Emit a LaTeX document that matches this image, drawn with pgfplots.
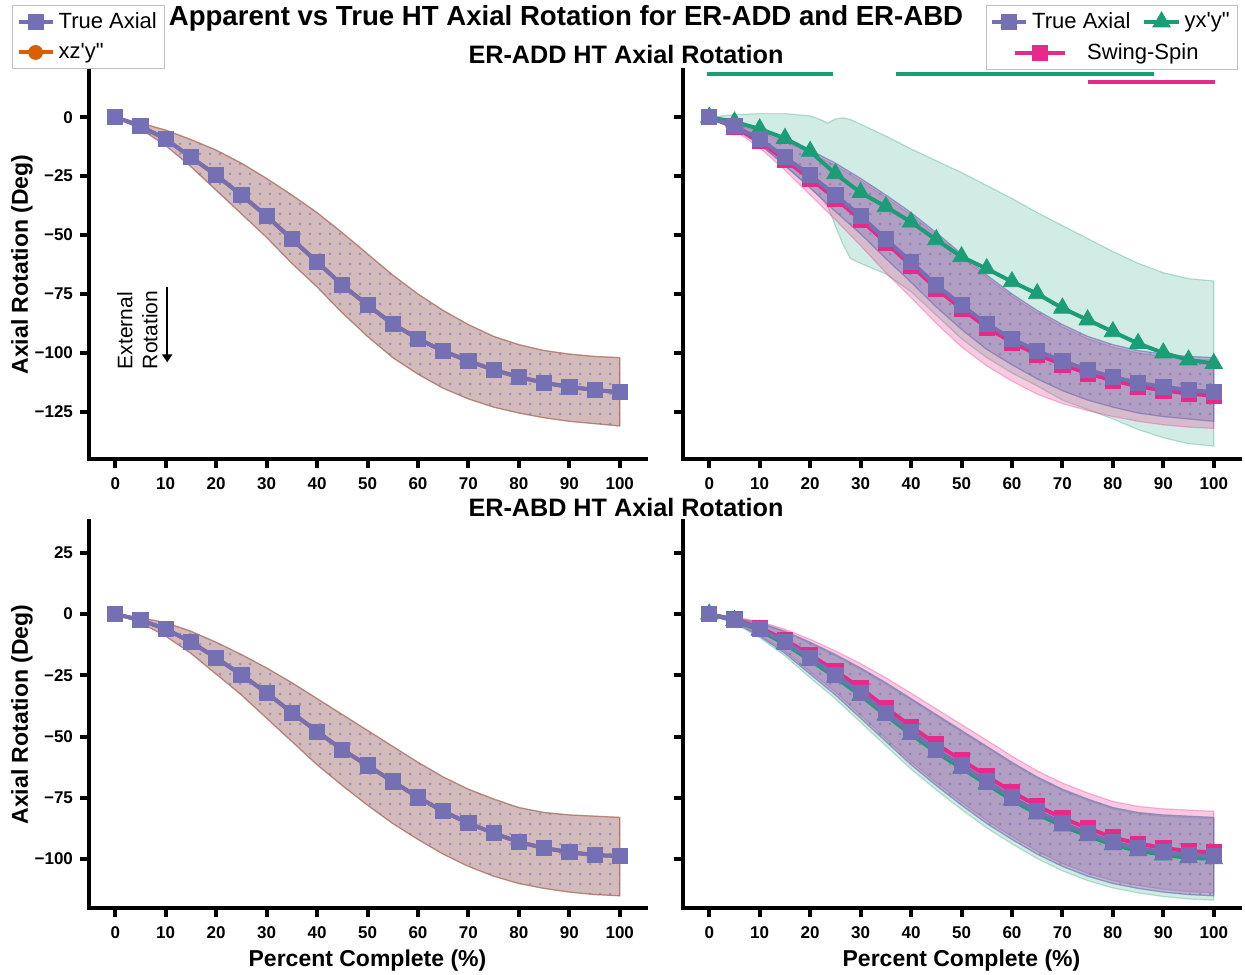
\documentclass[border=0pt]{standalone}
\usepackage{fontspec}
\setmainfont{Liberation Sans}
\usepackage{pgfplots}
\usepackage{pgfplotstable}
\pgfplotsset{compat=1.18}
\usetikzlibrary{patterns,arrows.meta}

\definecolor{tapurple}{HTML}{7570B3}
\definecolor{tgreen}{HTML}{1B9E77}
\definecolor{tpink}{HTML}{E7298A}
\definecolor{torange}{HTML}{D95F02}

\pgfdeclarepatternformonly{sdots}{\pgfqpoint{-1pt}{-1pt}}{\pgfqpoint{1pt}{1pt}}{\pgfqpoint{5pt}{5pt}}%
{\pgfpathcircle{\pgfqpoint{0pt}{0pt}}{0.75pt}\pgfusepath{fill}}

\newcommand{\tickfont}{\bfseries\fontsize{8.5}{10}\selectfont}
\newcommand{\labfont}{\bfseries\fontsize{11.5}{13}\selectfont}

% ER-ADD means: True Axial (ta), Swing-Spin (ss), yx'y'' (yx)
\pgfplotstableread{
x   ta     ss     yx
0   0      0      0
5   -3.8   -4.2   -2
10  -9.3   -10.2  -5
15  -17    -18.3  -9
20  -24.6  -26    -14.5
25  -33    -34.5  -24
30  -42    -43.5  -32
35  -51.7  -53.2  -38
40  -61.4  -62.9  -44.5
45  -71.2  -72.7  -52
50  -79.7  -81.2  -59.2
55  -87.7  -89.2  -64.3
60  -94    -95.5  -69.8
65  -99.2  -100.7 -74.9
70  -103.4 -104.9 -81
75  -107.2 -108.7 -86
80  -110.2 -111.7 -91
85  -112.7 -114.2 -96
90  -114.4 -115.9 -100
95  -115.7 -117.2 -103
100 -116.7 -118.2 -104.5
}\tadd

% ER-ABD means
\pgfplotstableread{
x   ta    ss    yx
0   0     0     0
5   -2.4  -2.2  -2.6
10  -6.1  -5.5  -6.6
15  -11.4 -10.5 -12.2
20  -17.9 -16.6 -18.8
25  -24.8 -23.2 -25.8
30  -32.1 -30.2 -33.2
35  -40.2 -38.2 -41.3
40  -48   -45.9 -49.1
45  -55.3 -53.1 -56.4
50  -61.8 -59.6 -62.9
55  -68.3 -66.1 -69.4
60  -74.8 -72.6 -75.9
65  -80.5 -78.3 -81.6
70  -85.4 -83.3 -86.5
75  -89.4 -87.4 -90.5
80  -93.1 -91.2 -94.2
85  -95.5 -93.7 -96.6
90  -97.2 -95.5 -98.3
95  -98.4 -96.8 -99.5
100 -98.8 -97.3 -99.9
}\tabd

\pgfplotsset{
  myaxis/.style={
    scale only axis, width=278.5pt, anchor=south west,
    xmin=-5.2, xmax=105.2,
    axis x line=bottom, axis y line=left,
    axis line style={-, line width=2pt, line cap=rect},
    tick align=outside, major tick length=4.5pt,
    tick style={black, line width=2pt},
    xtick={0,10,20,30,40,50,60,70,80,90,100},
    xticklabels={0,10,20,30,40,50,60,70,80,90,100},
    ticklabel style={font=\tickfont},
    xticklabel style={yshift=-1.5pt},
  },
  topy/.style={height=194.5pt, ymin=-145, ymax=20, ytick={-125,-100,-75,-50,-25,0}},
  boty/.style={height=193.5pt, ymin=-120, ymax=38, ytick={-100,-75,-50,-25,0,25}},
  ylab/.style={ylabel={Axial Rotation (Deg)}, ylabel style={font=\labfont, at={(axis description cs:-0.1203,0.5)}, anchor=center}},
  xlab/.style={xlabel={Percent Complete (\%)}, xlabel style={font=\labfont, at={(axis description cs:0.5,-0.137)}, anchor=center}},
  leg/.style={legend style={draw=black!25, font=\fontsize{11}{13}\selectfont, inner xsep=2pt, inner ysep=1.5pt, row sep=2pt, /tikz/every even column/.append style={column sep=4pt}}, legend cell align=left},
  purpline/.style={tapurple, line width=2pt, mark=square*, mark size=3.8pt, mark options={line width=0.4pt, fill=tapurple, draw=tapurple}},
  pinkline/.style={tpink, line width=2pt, mark=square*, mark size=3.8pt, mark options={line width=0.4pt, fill=tpink, draw=tpink}},
  greenline/.style={tgreen, line width=2pt, mark=triangle*, mark size=5pt, mark options={line width=0.4pt, fill=tgreen, draw=tgreen}},
  orangeline/.style={torange, line width=2pt, mark=*, mark size=3.5pt, mark options={line width=0.4pt, fill=torange, draw=torange}},
  swingimg/.style={legend image code/.code={\draw[overlay, mark repeat=2, mark phase=2, ##1] plot coordinates {(11.5pt,0pt) (24pt,0pt) (36.5pt,0pt)};}},
  brownband/.style={fill=torange!42!tapurple, fill opacity=0.45, draw=torange!50!tapurple, draw opacity=0.5, line width=0.6pt, forget plot,
     postaction={pattern=sdots, pattern color=tapurple, fill opacity=0.55}},
  purpband/.style={fill=tapurple, fill opacity=0.38, draw=tapurple, draw opacity=0.4, line width=0.6pt, forget plot,
     postaction={pattern=sdots, pattern color=tapurple, fill opacity=0.55}},
  pinkband/.style={fill=tpink, fill opacity=0.25, draw=tpink, draw opacity=0.3, line width=0.6pt, forget plot},
  greenband/.style={fill=tgreen, fill opacity=0.2, draw=tgreen, draw opacity=0.3, line width=0.6pt, forget plot},
}

\begin{document}
\begin{tikzpicture}
\useasboundingbox (0pt,0pt) rectangle (622.5pt,-487pt);

% ---------------- Top left ----------------
\begin{axis}[myaxis, topy, ylab, leg, at={(44.5pt,-229.5pt)},
  yticklabels={−125,−100,−75,−50,−25,0},
  legend style={at={(-0.138,1.167)}, anchor=north west}]
\addlegendimage{purpline}\addlegendentry{True Axial}
\addlegendimage{orangeline}\addlegendentry{xz\textquotesingle y\textquotedbl}
\addplot[brownband] coordinates {
(0,0)(5,-2.5)(10,-5.5)(15,-9.5)(20,-14)(25,-19.5)(30,-26)(35,-33)(40,-40.5)(45,-49)(50,-58)(55,-67)(60,-75)(65,-82)(70,-88)(75,-93)(80,-96.5)(85,-99)(90,-100.5)(95,-101.5)(100,-102)
(100,-131)(95,-130)(90,-129)(85,-127.5)(80,-125.5)(75,-123)(70,-119.5)(65,-115)(60,-109)(55,-102)(50,-93)(45,-83)(40,-72)(35,-62)(30,-51)(25,-41)(20,-31)(15,-21)(10,-12)(5,-5)(0,0)};
\addplot[orangeline, forget plot] table[x=x,y=ta]{\tadd};
\addplot[purpline, forget plot] table[x=x,y=ta]{\tadd};
\node[rotate=90, align=left, font=\fontsize{10.5}{12.5}\selectfont] at (axis cs:4.4,-90.3) {External\\Rotation};
\draw[line width=0.8pt, -{Triangle[width=5pt,length=4pt]}] (axis cs:10.3,-72) -- (axis cs:10.3,-104);
\end{axis}

% ---------------- Top right ----------------
\begin{axis}[myaxis, topy, leg, at={(341.5pt,-229.5pt)},
  yticklabels={},
  legend columns=2,
  legend style={at={(0.9964,1.167)}, anchor=north east}]
\addlegendimage{purpline}\addlegendentry{True Axial}
\addlegendimage{greenline}\addlegendentry{yx\textquotesingle y\textquotedbl}
\addlegendimage{pinkline, swingimg}
\addlegendentry{\makebox[0pt][l]{\hspace*{27.5pt}Swing-Spin}}
\addplot[greenband] coordinates {
(0,0)(5,1)(10,1.5)(15,1.5)(20,0.5)(22,-1)(23.5,-2.5)(25,-0.8)(26.5,-0.3)(28,-1)(30,-3)(35,-8)(40,-13.5)(45,-18.5)(50,-23.5)(55,-29)(60,-34.5)(65,-40.5)(70,-46)(75,-51.5)(80,-57)(85,-62)(90,-66)(95,-68.5)(100,-69.5)
(100,-139.5)(95,-138.5)(90,-136)(85,-132.5)(80,-128)(75,-124)(70,-120)(65,-114)(60,-108.5)(55,-102)(50,-94)(45,-84)(40,-74)(35,-66.5)(30,-62)(28,-60)(26.5,-54)(25,-46)(23.5,-38)(22,-34)(20,-30)(15,-20.5)(10,-11.5)(5,-4.5)(0,0)};
\addplot[pinkband] coordinates {
(0,0)(5,-3)(10,-6.3)(15,-10.5)(20,-15)(25,-20.5)(30,-27)(35,-34)(40,-41.5)(45,-50)(50,-59)(55,-68)(60,-76)(65,-83)(70,-89)(75,-94)(80,-97.5)(85,-100)(90,-101.5)(95,-102.5)(100,-103)
(100,-132)(95,-131.5)(90,-130.5)(85,-129)(80,-127)(75,-124.5)(70,-121.5)(65,-117.5)(60,-112)(55,-105.5)(50,-97.5)(45,-87.5)(40,-76.5)(35,-66)(30,-54.5)(25,-43.5)(20,-33)(15,-22.5)(10,-13)(5,-5.5)(0,0)};
\addplot[purpband] coordinates {
(0,0)(5,-2.5)(10,-5.5)(15,-9.5)(20,-14)(25,-19.5)(30,-26)(35,-33)(40,-40.5)(45,-49)(50,-58)(55,-67)(60,-75)(65,-82)(70,-88)(75,-93)(80,-96.5)(85,-99)(90,-100.5)(95,-101.5)(100,-102)
(100,-129)(95,-128)(90,-127)(85,-125.5)(80,-123)(75,-120)(70,-116)(65,-111)(60,-105)(55,-98.5)(50,-90)(45,-80.5)(40,-70)(35,-60)(30,-49.5)(25,-40)(20,-30)(15,-20.5)(10,-11.5)(5,-5)(0,0)};
\addplot[tgreen, line width=2pt, forget plot] coordinates {(-0.4,18.2) (24.6,18.2)};
\addplot[tgreen, line width=2pt, forget plot] coordinates {(37.1,18.2) (88.1,18.2)};
\addplot[tpink, line width=2pt, forget plot] coordinates {(75,14.8) (100.2,14.8)};
\addplot[greenline, forget plot] table[x=x,y=yx]{\tadd};
\addplot[pinkline, forget plot] table[x=x,y=ss]{\tadd};
\addplot[purpline, forget plot] table[x=x,y=ta]{\tadd};
\end{axis}

% ---------------- Bottom left ----------------
\begin{axis}[myaxis, boty, ylab, xlab, at={(44.5pt,-454pt)},
  yticklabels={−100,−75,−50,−25,0,25}]
\addplot[brownband] coordinates {
(0,0)(5,-1.5)(10,-3.5)(15,-7)(20,-11.5)(25,-16.5)(30,-22)(35,-28)(40,-34.5)(45,-41)(50,-47.5)(55,-54)(60,-60.5)(65,-66.5)(70,-71.5)(75,-75.5)(80,-79)(85,-81)(90,-82)(95,-82.5)(100,-83)
(100,-115)(95,-114.5)(90,-113.5)(85,-112)(80,-110)(75,-107)(70,-103)(65,-98)(60,-92)(55,-85.5)(50,-78)(45,-70)(40,-61.5)(35,-52)(30,-42.5)(25,-33)(20,-24.5)(15,-16)(10,-9)(5,-3.5)(0,0)};
\addplot[orangeline, forget plot] table[x=x,y=ta]{\tabd};
\addplot[purpline, forget plot] table[x=x,y=ta]{\tabd};
\end{axis}

% ---------------- Bottom right ----------------
\begin{axis}[myaxis, boty, xlab, at={(341.5pt,-454pt)},
  yticklabels={}]
\addplot[greenband] coordinates {
(0,0)(5,-1.7)(10,-3.8)(15,-7.4)(20,-12)(25,-17)(30,-22.5)(35,-28.5)(40,-35)(45,-41.5)(50,-48)(55,-54.5)(60,-61)(65,-67)(70,-72)(75,-76)(80,-79.5)(85,-81.5)(90,-82.5)(95,-83)(100,-83.5)
(100,-116.8)(95,-116.3)(90,-115.3)(85,-113.8)(80,-111.8)(75,-108.8)(70,-104.8)(65,-99.8)(60,-93.8)(55,-87.3)(50,-79.8)(45,-71.8)(40,-63.3)(35,-53.8)(30,-44.2)(25,-34.6)(20,-26)(15,-17)(10,-9.6)(5,-3.8)(0,0)};
\addplot[pinkband] coordinates {
(0,0)(5,-1.2)(10,-3)(15,-6.2)(20,-10.3)(25,-15)(30,-20.2)(35,-26)(40,-32.3)(45,-38.7)(50,-45.1)(55,-51.5)(60,-58)(65,-64)(70,-69)(75,-73)(80,-76.5)(85,-78.5)(90,-79.5)(95,-80)(100,-80.5)
(100,-113.8)(95,-113.3)(90,-112.3)(85,-110.8)(80,-108.8)(75,-105.8)(70,-101.8)(65,-96.8)(60,-90.8)(55,-84.3)(50,-76.8)(45,-68.8)(40,-60.3)(35,-50.8)(30,-41.2)(25,-31.8)(20,-23.5)(15,-15.2)(10,-8.5)(5,-3.3)(0,0)};
\addplot[purpband] coordinates {
(0,0)(5,-1.5)(10,-3.5)(15,-7)(20,-11.5)(25,-16.5)(30,-22)(35,-28)(40,-34.5)(45,-41)(50,-47.5)(55,-54)(60,-60.5)(65,-66.5)(70,-71.5)(75,-75.5)(80,-79)(85,-81)(90,-82)(95,-82.5)(100,-83)
(100,-115)(95,-114.5)(90,-113.5)(85,-112)(80,-110)(75,-107)(70,-103)(65,-98)(60,-92)(55,-85.5)(50,-78)(45,-70)(40,-61.5)(35,-52)(30,-42.5)(25,-33)(20,-24.5)(15,-16)(10,-9)(5,-3.5)(0,0)};
\addplot[greenline, forget plot] table[x=x,y=yx]{\tabd};
\addplot[pinkline, forget plot] table[x=x,y=ss]{\tabd};
\addplot[purpline, forget plot] table[x=x,y=ta]{\tabd};
\end{axis}

% ---------------- Titles ----------------
\node[font=\bfseries\fontsize{13.8}{16}\selectfont] at (283pt,-9pt) {Apparent vs True HT Axial Rotation for ER-ADD and ER-ABD};
\node[font=\bfseries\fontsize{12.6}{15}\selectfont] at (313pt,-27pt) {ER-ADD HT Axial Rotation};
\node[font=\bfseries\fontsize{12.6}{15}\selectfont] at (313pt,-253.5pt) {ER-ABD HT Axial Rotation};
\end{tikzpicture}
\end{document}
